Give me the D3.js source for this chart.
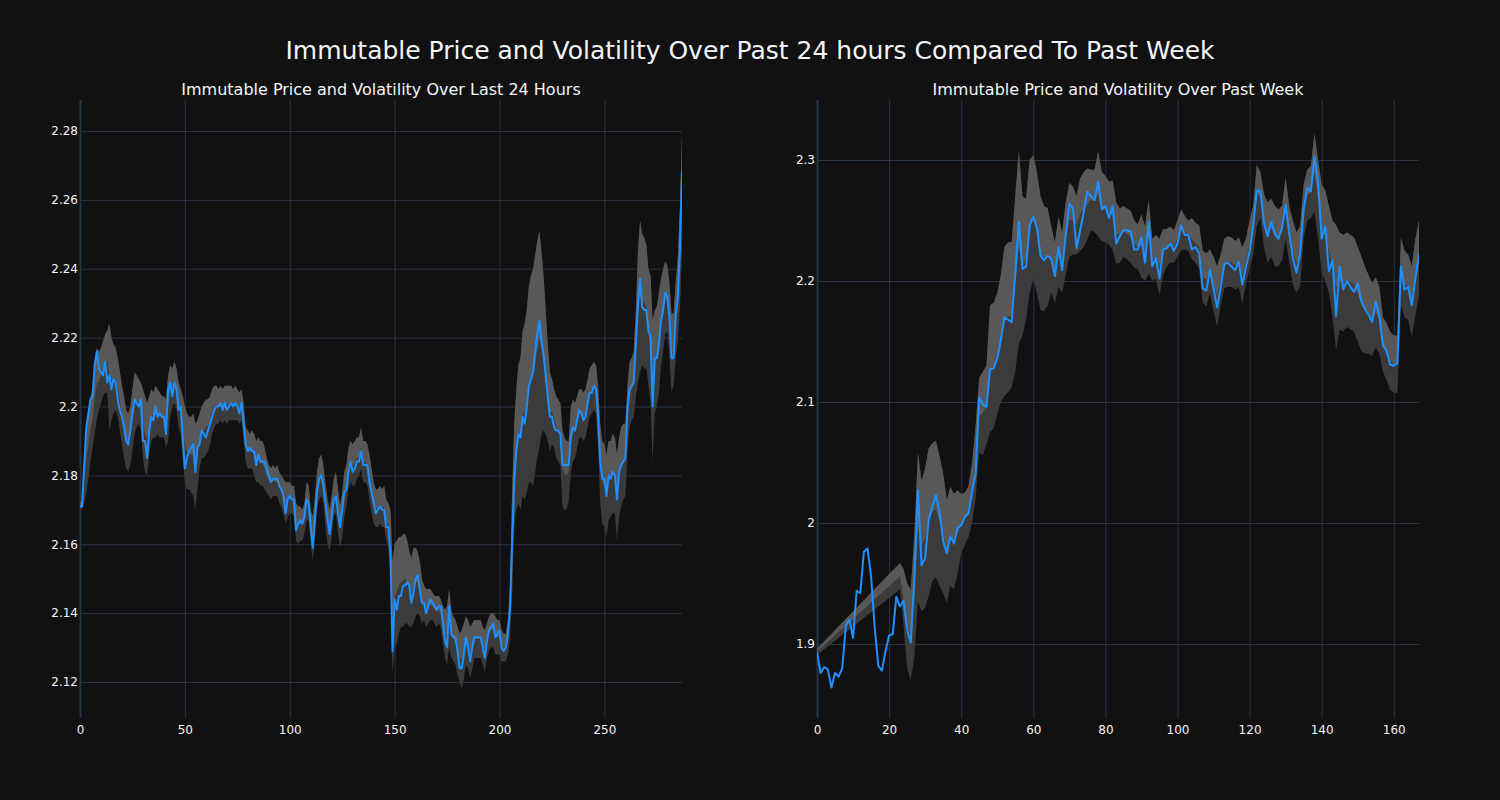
<!DOCTYPE html>
<html>
<head>
<meta charset="utf-8">
<script src="https://cdn.jsdelivr.net/npm/d3@7"></script>
<style>
  html, body { margin: 0; padding: 0; background: #111111; }
  svg { display: block; }
  text { font-family: "DejaVu Sans", "Open Sans", sans-serif; fill: #f2f5fa; }
</style>
</head>
<body>
<svg id="chart" width="1500" height="800"></svg>
<script>
// ---------------- DATA ----------------
const mainTitle = "Immutable Price and Volatility Over Past 24 hours Compared To Past Week";
const title24 = "Immutable Price and Volatility Over Last 24 Hours";
const titleWeek = "Immutable Price and Volatility Over Past Week";

const xTicks24 = [0, 50, 100, 150, 200, 250];
const yTicks24 = [2.12, 2.14, 2.16, 2.18, 2.2, 2.22, 2.24, 2.26, 2.28];
const yTickLabels24 = ["2.12", "2.14", "2.16", "2.18", "2.2", "2.22", "2.24", "2.26", "2.28"];
const xTicksWeek = [0, 20, 40, 60, 80, 100, 120, 140, 160];
const yTicksWeek = [1.9, 2.0, 2.1, 2.2, 2.3];
const yTickLabelsWeek = ["1.9", "2", "2.1", "2.2", "2.3"];

// Last 24 hours (5-minute steps, index 0..287)
const price24 = [
2.171,2.171,2.183,2.194,2.198,2.202,2.203,2.212,2.216,2.211,
2.210,2.209,2.213,2.207,2.209,2.205,2.208,2.207,2.202,2.199,
2.197,2.194,2.190,2.189,2.193,2.198,2.202,2.201,2.200,2.202,
2.190,2.190,2.185,2.193,2.197,2.196,2.200,2.197,2.198,2.197,
2.197,2.192,2.205,2.207,2.203,2.207,2.205,2.199,2.200,2.191,
2.182,2.185,2.187,2.188,2.189,2.181,2.188,2.189,2.193,2.192,
2.191,2.193,2.195,2.197,2.199,2.200,2.200,2.201,2.199,2.201,
2.199,2.200,2.201,2.200,2.201,2.200,2.198,2.201,2.195,2.189,
2.187,2.188,2.187,2.187,2.183,2.186,2.184,2.184,2.184,2.182,
2.180,2.178,2.179,2.179,2.179,2.177,2.176,2.174,2.169,2.173,
2.174,2.173,2.173,2.164,2.166,2.167,2.166,2.168,2.173,2.172,
2.165,2.159,2.167,2.175,2.179,2.180,2.177,2.172,2.167,2.163,
2.168,2.173,2.174,2.169,2.165,2.170,2.175,2.176,2.181,2.184,
2.181,2.182,2.184,2.184,2.187,2.183,2.183,2.183,2.178,2.175,
2.172,2.169,2.170,2.171,2.170,2.170,2.165,2.165,2.157,2.129,
2.144,2.141,2.145,2.145,2.148,2.148,2.149,2.148,2.143,2.146,
2.150,2.151,2.147,2.143,2.143,2.140,2.142,2.144,2.143,2.142,
2.141,2.142,2.142,2.137,2.132,2.130,2.142,2.134,2.133,2.133,
2.129,2.124,2.124,2.128,2.133,2.130,2.126,2.130,2.133,2.133,
2.133,2.133,2.130,2.127,2.132,2.135,2.136,2.137,2.133,2.134,
2.135,2.130,2.129,2.130,2.134,2.141,2.160,2.178,2.187,2.192,
2.191,2.197,2.195,2.200,2.206,2.208,2.210,2.216,2.221,2.225,
2.219,2.215,2.209,2.203,2.197,2.197,2.194,2.193,2.193,2.192,
2.183,2.183,2.183,2.183,2.191,2.194,2.193,2.196,2.199,2.198,
2.196,2.197,2.201,2.204,2.204,2.206,2.205,2.197,2.184,2.179,
2.179,2.174,2.180,2.179,2.181,2.180,2.173,2.181,2.183,2.184,
2.185,2.199,2.205,2.206,2.207,2.218,2.230,2.237,2.229,2.228,
2.228,2.222,2.220,2.200,2.214,2.214,2.218,2.225,2.228,2.233,
2.232,2.226,2.214,2.214,2.226,2.232,2.245,2.268
];
const upper24 = [
2.172,2.173,2.185,2.195,2.199,2.203,2.205,2.213,2.217,2.216,
2.217,2.219,2.221,2.222,2.224,2.220,2.218,2.217,2.214,2.210,
2.206,2.203,2.199,2.198,2.200,2.205,2.210,2.209,2.208,2.207,
2.205,2.203,2.201,2.203,2.205,2.204,2.206,2.205,2.204,2.203,
2.203,2.202,2.209,2.212,2.211,2.213,2.211,2.207,2.205,2.203,
2.200,2.198,2.197,2.197,2.198,2.195,2.196,2.198,2.200,2.201,
2.202,2.202,2.203,2.205,2.206,2.206,2.205,2.206,2.205,2.206,
2.206,2.206,2.206,2.205,2.206,2.205,2.204,2.205,2.201,2.194,
2.193,2.192,2.193,2.192,2.190,2.191,2.190,2.190,2.188,2.185,
2.183,2.182,2.183,2.182,2.183,2.181,2.180,2.179,2.178,2.178,
2.178,2.177,2.177,2.172,2.171,2.171,2.170,2.172,2.178,2.177,
2.170,2.168,2.174,2.181,2.185,2.186,2.183,2.178,2.173,2.170,
2.174,2.179,2.181,2.176,2.171,2.175,2.181,2.183,2.188,2.190,
2.189,2.190,2.191,2.191,2.194,2.190,2.190,2.189,2.186,2.182,
2.178,2.176,2.176,2.177,2.176,2.177,2.173,2.172,2.170,2.155,
2.160,2.161,2.162,2.162,2.163,2.163,2.161,2.158,2.156,2.159,
2.159,2.158,2.155,2.150,2.148,2.147,2.147,2.147,2.146,2.145,
2.145,2.145,2.144,2.142,2.141,2.142,2.147,2.141,2.139,2.138,
2.136,2.134,2.135,2.137,2.139,2.138,2.136,2.137,2.138,2.138,
2.138,2.138,2.136,2.135,2.137,2.139,2.140,2.140,2.139,2.138,
2.138,2.135,2.134,2.134,2.138,2.148,2.175,2.195,2.205,2.212,
2.214,2.222,2.224,2.228,2.235,2.238,2.240,2.244,2.248,2.251,
2.245,2.238,2.228,2.218,2.210,2.208,2.205,2.203,2.202,2.201,
2.193,2.191,2.190,2.190,2.200,2.202,2.201,2.203,2.205,2.205,
2.204,2.205,2.208,2.211,2.212,2.213,2.212,2.206,2.195,2.190,
2.189,2.186,2.190,2.190,2.192,2.191,2.186,2.191,2.194,2.195,
2.195,2.206,2.213,2.214,2.216,2.228,2.245,2.254,2.250,2.249,
2.247,2.240,2.238,2.225,2.228,2.229,2.233,2.237,2.240,2.242,
2.241,2.236,2.227,2.227,2.236,2.243,2.258,2.279
];
const lower24 = [
2.170,2.170,2.172,2.175,2.179,2.184,2.188,2.192,2.196,2.199,
2.201,2.203,2.204,2.204,2.193,2.196,2.198,2.199,2.197,2.193,
2.189,2.185,2.182,2.181,2.183,2.187,2.192,2.194,2.195,2.193,
2.185,2.181,2.180,2.186,2.190,2.191,2.191,2.192,2.191,2.191,
2.191,2.188,2.190,2.197,2.200,2.201,2.199,2.194,2.192,2.184,
2.178,2.176,2.176,2.175,2.174,2.170,2.176,2.182,2.185,2.185,
2.186,2.187,2.189,2.192,2.194,2.195,2.195,2.196,2.195,2.196,
2.195,2.196,2.196,2.196,2.196,2.196,2.195,2.196,2.190,2.184,
2.182,2.182,2.182,2.180,2.178,2.178,2.177,2.177,2.176,2.175,
2.174,2.173,2.174,2.174,2.174,2.172,2.171,2.169,2.166,2.168,
2.169,2.169,2.168,2.161,2.160,2.161,2.161,2.163,2.167,2.167,
2.160,2.155,2.163,2.170,2.173,2.174,2.172,2.165,2.160,2.158,
2.162,2.168,2.169,2.163,2.159,2.162,2.168,2.171,2.176,2.178,
2.177,2.177,2.179,2.180,2.182,2.178,2.178,2.177,2.173,2.169,
2.166,2.165,2.165,2.166,2.165,2.165,2.161,2.159,2.152,2.122,
2.130,2.131,2.134,2.136,2.136,2.137,2.137,2.136,2.136,2.137,
2.139,2.140,2.139,2.137,2.138,2.136,2.137,2.138,2.138,2.137,
2.136,2.137,2.136,2.131,2.127,2.125,2.130,2.127,2.126,2.125,
2.122,2.120,2.118,2.121,2.125,2.124,2.121,2.124,2.127,2.127,
2.127,2.127,2.125,2.123,2.127,2.129,2.130,2.130,2.128,2.128,
2.128,2.126,2.126,2.126,2.128,2.132,2.145,2.165,2.170,2.172,
2.170,2.174,2.173,2.175,2.178,2.178,2.177,2.181,2.185,2.188,
2.192,2.193,2.192,2.190,2.187,2.189,2.188,2.185,2.184,2.183,
2.171,2.170,2.170,2.173,2.181,2.184,2.185,2.188,2.191,2.191,
2.190,2.191,2.194,2.197,2.198,2.199,2.198,2.188,2.172,2.166,
2.165,2.162,2.167,2.168,2.169,2.169,2.161,2.168,2.171,2.173,
2.174,2.186,2.194,2.196,2.197,2.203,2.207,2.210,2.212,2.211,
2.211,2.206,2.201,2.184,2.198,2.200,2.204,2.212,2.216,2.221,
2.222,2.214,2.204,2.206,2.214,2.219,2.228,2.245
];

// Past week (hourly steps, index 0..167); volatility band undefined (null) where not yet computed
const priceWeek = [
1.893,1.876,1.881,1.879,1.864,1.876,1.873,1.880,1.915,1.920,
1.905,1.944,1.942,1.976,1.979,1.956,1.914,1.882,1.878,1.894,
1.907,1.908,1.939,1.931,1.936,1.912,1.901,1.953,2.027,1.965,
1.971,2.003,2.014,2.023,2.009,1.985,1.975,1.989,1.983,1.996,
1.998,2.005,2.008,2.025,2.041,2.104,2.098,2.096,2.127,2.128,
2.136,2.151,2.170,2.168,2.166,2.206,2.249,2.210,2.212,2.246,
2.253,2.244,2.221,2.217,2.221,2.218,2.204,2.228,2.209,2.238,
2.264,2.260,2.227,2.242,2.257,2.274,2.270,2.267,2.282,2.259,
2.262,2.252,2.262,2.231,2.237,2.242,2.242,2.241,2.226,2.226,
2.236,2.215,2.249,2.212,2.219,2.202,2.226,2.227,2.231,2.225,
2.231,2.246,2.238,2.238,2.226,2.228,2.223,2.194,2.192,2.209,
2.194,2.178,2.195,2.214,2.215,2.212,2.209,2.216,2.197,2.212,
2.224,2.245,2.275,2.274,2.248,2.237,2.249,2.239,2.235,2.244,
2.263,2.239,2.219,2.207,2.222,2.259,2.277,2.274,2.303,2.282,
2.235,2.245,2.208,2.217,2.171,2.212,2.193,2.200,2.195,2.191,
2.198,2.183,2.177,2.172,2.166,2.183,2.171,2.147,2.142,2.131,
2.130,2.132,2.212,2.193,2.195,2.180,2.202,2.222
];
const upperWeek = [
1.896,null,null,null,null,null,null,null,null,null,
null,null,null,null,null,null,null,null,null,null,
null,null,null,1.967,1.962,1.950,1.945,1.990,2.058,2.035,
2.045,2.062,2.066,2.068,2.055,2.041,2.019,2.030,2.024,2.027,
2.024,2.025,2.030,2.049,2.080,2.120,2.125,2.130,2.180,2.182,
2.190,2.205,2.228,2.232,2.232,2.270,2.308,2.270,2.268,2.300,
2.304,2.290,2.270,2.262,2.260,2.245,2.232,2.253,2.240,2.265,
2.281,2.278,2.270,2.285,2.290,2.293,2.292,2.292,2.307,2.290,
2.287,2.282,2.283,2.265,2.260,2.262,2.260,2.258,2.250,2.247,
2.255,2.245,2.267,2.235,2.238,2.235,2.243,2.243,2.245,2.242,
2.250,2.259,2.254,2.250,2.252,2.248,2.246,2.225,2.223,2.226,
2.220,2.212,2.222,2.235,2.237,2.236,2.233,2.236,2.228,2.235,
2.250,2.262,2.296,2.290,2.272,2.265,2.268,2.262,2.259,2.262,
2.286,2.262,2.250,2.240,2.245,2.280,2.292,2.295,2.322,2.300,
2.280,2.275,2.262,2.250,2.246,2.240,2.238,2.240,2.238,2.236,
2.228,2.220,2.212,2.205,2.198,2.203,2.195,2.170,2.165,2.158,
2.155,2.155,2.236,2.225,2.222,2.212,2.235,2.250
];
const lowerWeek = [
1.891,null,null,null,null,null,null,null,null,null,
null,null,null,null,null,null,null,null,null,null,
null,null,null,1.945,1.915,1.880,1.870,1.890,1.935,1.927,
1.930,1.940,1.952,1.955,1.948,1.942,1.934,1.948,1.945,1.958,
1.975,1.982,1.988,2.000,2.020,2.058,2.056,2.065,2.075,2.078,
2.090,2.100,2.105,2.108,2.112,2.125,2.148,2.155,2.168,2.190,
2.202,2.190,2.176,2.175,2.180,2.190,2.182,2.195,2.190,2.205,
2.220,2.222,2.222,2.225,2.228,2.234,2.242,2.240,2.237,2.233,
2.232,2.230,2.226,2.214,2.215,2.220,2.218,2.215,2.211,2.210,
2.203,2.200,2.206,2.200,2.202,2.188,2.205,2.212,2.215,2.215,
2.220,2.225,2.226,2.225,2.218,2.215,2.210,2.182,2.179,2.190,
2.175,2.162,2.180,2.194,2.195,2.195,2.193,2.195,2.181,2.198,
2.210,2.222,2.245,2.252,2.228,2.215,2.220,2.212,2.212,2.217,
2.235,2.215,2.198,2.190,2.195,2.235,2.250,2.252,2.257,2.235,
2.207,2.200,2.190,2.170,2.143,2.160,2.158,2.162,2.160,2.158,
2.150,2.142,2.140,2.140,2.138,2.145,2.140,2.125,2.118,2.110,
2.108,2.107,2.180,2.170,2.168,2.154,2.172,2.188
];

// ---------------- DRAWING ----------------
const svg = d3.select("#chart");
svg.append("rect").attr("width", 1500).attr("height", 800).attr("fill", "#111111");

svg.append("text")
  .attr("x", 750).attr("y", 59)
  .attr("text-anchor", "middle")
  .style("font-size", "25px")
  .text(mainTitle);

function drawPanel(cfg, id) {
  const x = d3.scaleLinear().domain(cfg.xDomain).range([cfg.left, cfg.right]);
  const y = d3.scaleLinear().domain(cfg.yDomain).range([cfg.bottom, cfg.top]);
  const g = svg.append("g");

  svg.append("clipPath").attr("id", "clip" + id)
    .append("rect").attr("x", cfg.left).attr("y", cfg.top)
    .attr("width", cfg.right - cfg.left).attr("height", cfg.bottom - cfg.top);

  // grid lines
  const gx = g.append("g").attr("transform", `translate(0,${cfg.bottom})`)
    .call(d3.axisBottom(x).tickValues(cfg.xTicks).tickSize(-(cfg.bottom - cfg.top)).tickFormat(""));
  gx.select(".domain").remove();
  gx.selectAll("line").attr("stroke", "#283442")
    .attr("stroke-width", d => d === 0 ? 2 : 1);

  const gy = g.append("g").attr("transform", `translate(${cfg.left},0)`)
    .call(d3.axisLeft(y).tickValues(cfg.yTicks).tickSize(-(cfg.right - cfg.left)).tickFormat(""));
  gy.select(".domain").remove();
  gy.selectAll("line").attr("stroke", "#283442").attr("stroke-width", 1);

  // tick labels
  const lx = g.append("g").attr("transform", `translate(0,${cfg.bottom + 4})`)
    .call(d3.axisBottom(x).tickValues(cfg.xTicks).tickSize(0).tickFormat(d3.format("d")));
  lx.select(".domain").remove();
  lx.selectAll("text").style("font-size", "12px").attr("fill", "#f2f5fa")
    .style("font-family", '"DejaVu Sans", sans-serif');

  const ly = g.append("g").attr("transform", `translate(${cfg.left + 1},0)`)
    .call(d3.axisLeft(y).tickValues(cfg.yTicks).tickSize(0)
      .tickFormat((d, i) => cfg.yTickLabels[i]));
  ly.select(".domain").remove();
  ly.selectAll("text").style("font-size", "12px").attr("fill", "#f2f5fa")
    .style("font-family", '"DejaVu Sans", sans-serif');

  // volatility band (gaps where the band is undefined are bridged, as in the source chart)
  const bandPts = cfg.price.map((p, i) => ({ i, p, u: cfg.upper[i], l: cfg.lower[i] }))
    .filter(d => d.u != null && d.l != null);
  const plot = g.append("g").attr("clip-path", `url(#clip${id})`);

  plot.append("path").datum(bandPts)
    .attr("fill", "#3b3b3b")
    .attr("d", d3.area().x(d => x(d.i)).y0(d => y(d.l)).y1(d => y(d.u)));
  plot.append("path").datum(bandPts)
    .attr("fill", "#585858")
    .attr("d", d3.area().x(d => x(d.i)).y0(d => y((d.l + d.u) / 2)).y1(d => y(d.u)));

  // price line
  plot.append("path").datum(cfg.price)
    .attr("fill", "none")
    .attr("stroke", "#1e90ff")
    .attr("stroke-width", 2)
    .attr("stroke-linejoin", "round")
    .attr("d", d3.line().x((d, i) => x(i)).y(d => y(d)));

  // subplot title
  svg.append("text")
    .attr("x", (cfg.left + cfg.right) / 2).attr("y", 95)
    .attr("text-anchor", "middle")
    .style("font-size", "16px")
    .text(cfg.title);
}

drawPanel({
  left: 80, right: 682, top: 100, bottom: 718,
  xDomain: [0, 287], yDomain: [2.10955, 2.28900],
  xTicks: xTicks24, yTicks: yTicks24, yTickLabels: yTickLabels24,
  price: price24, upper: upper24, lower: lower24, title: title24
}, 1);

drawPanel({
  left: 817, right: 1419, top: 100, bottom: 718,
  xDomain: [0, 167], yDomain: [1.83884, 2.34959],
  xTicks: xTicksWeek, yTicks: yTicksWeek, yTickLabels: yTickLabelsWeek,
  price: priceWeek, upper: upperWeek, lower: lowerWeek, title: titleWeek
}, 2);
</script>
</body>
</html>
